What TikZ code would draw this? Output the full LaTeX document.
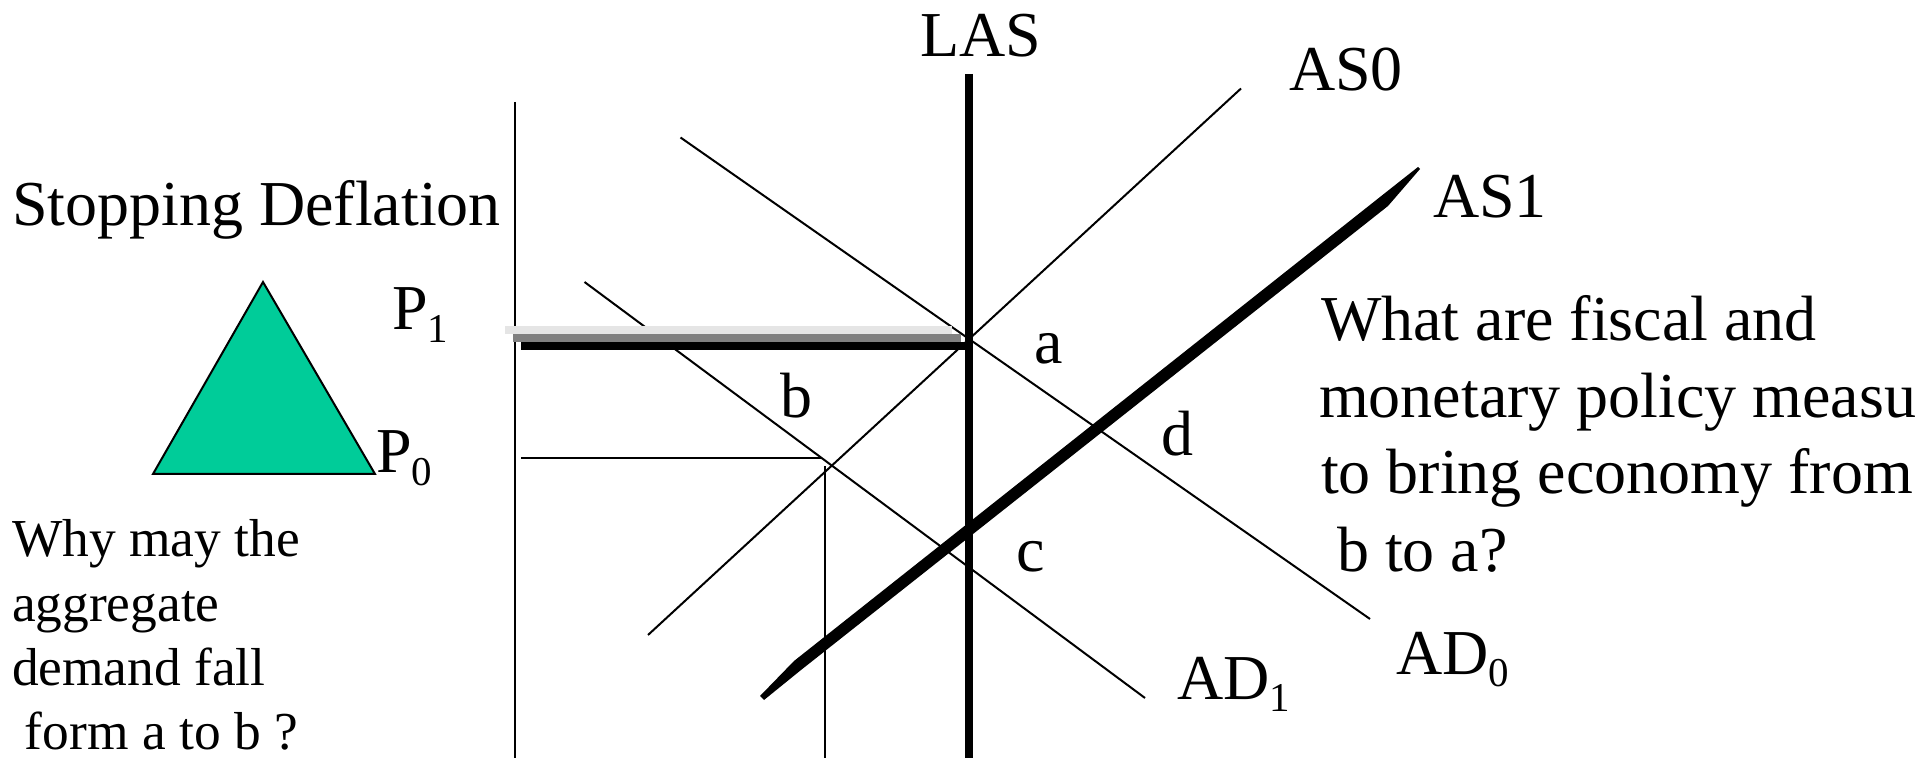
\documentclass[tikz,border=0pt]{standalone}
\usepackage{fontspec}
\setmainfont{Liberation Serif}
\newcommand{\lowsub}[1]{\raisebox{-0.2em}{\scalebox{0.64}{#1}}}
\tikzset{
  lab/.style={anchor=base west,inner sep=0pt,outer sep=0pt,font=\fontsize{32}{38}\selectfont},
  small/.style={anchor=base west,inner sep=0pt,outer sep=0pt,font=\fontsize{26.7}{32}\selectfont},
  thinline/.style={line width=1pt,black},
  heavy/.style={line width=4pt,black}
}
\begin{document}
\begin{tikzpicture}[x=0.5pt,y=-0.5pt]
\useasboundingbox (0,0) rectangle (1921,758);
\clip (0,0) rectangle (1921,758);
\fill[white] (0,0) rectangle (1921,758);
% axes and guide lines
\draw[thinline] (514.5,102) -- (514.5,758);
\draw[thinline] (680.5,137.5) -- (1370,619);
\draw[thinline] (648,635) -- (1241,88.5);
\draw[thinline] (584.5,282) -- (1145,698);
\draw[thinline] (521,458) -- (822,458);
\draw[thinline] (824.5,466) -- (824.5,758);
% price bars
\fill[black!10] (505,326) rectangle (952,334);
\fill[black!50] (513,334) rectangle (961,342);
\fill[black] (521,342) rectangle (969,350);
% LAS
\draw[heavy] (969,74) -- (969,758);
% AS1 tapered
\fill[black] (760,696) -- (794,661) -- (1380,197) -- (1418,167) -- (1420,169) -- (1388,206) -- (801,670) -- (764,700) -- cycle;
% triangle
\draw[thinline,fill={rgb,255:red,0;green,204;blue,153}] (263,282) -- (153,474) -- (375,474) -- cycle;
% labels
\node[lab] (las) at (920,57) {LAS};
\node[lab] (as0) at (1289,91) {AS0};
\node[lab] (as1) at (1433,218) {AS1};
\node[lab] (title) at (12,226) {Stopping Deflation};
\node[lab] (p1) at (392,330) {P\lowsub{1}};
\node[lab] (p0) at (376,473) {P\lowsub{0}};
\node[lab] (a) at (1034,364) {a};
\node[lab] (b) at (780,418) {b};
\node[lab] (c) at (1016,571) {c};
\node[lab] (d) at (1161,456) {d};
\node[lab] (ad1) at (1177,699) {AD\lowsub{1}};
\node[lab] (ad0) at (1396,674) {AD\lowsub{0}};
\node[lab] (q1) at (1321,341) {What are fiscal and};
\node[lab] (q2) at (1319,418) {monetary policy measu};
\node[lab] (q3) at (1321,494) {to bring economy from};
\node[lab] (q4) at (1337,571) {b to a?};
\node[small] (w1) at (12,557) {Why may the};
\node[small] (w2) at (12,621) {aggregate};
\node[small] (w3) at (12,685) {demand fall};
\node[small] (w4) at (25,749) {form a to b ?};
\end{tikzpicture}
\end{document}
